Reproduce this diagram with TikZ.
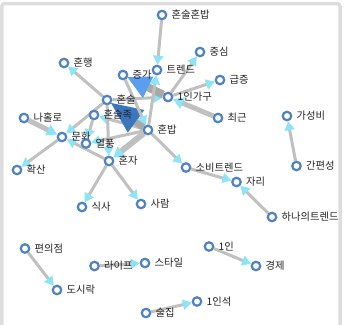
\documentclass[tikz,border=0pt]{standalone}
\usepackage{fontspec}
\newfontfamily\kr{Noto Sans CJK KR}
\usetikzlibrary{arrows.meta,backgrounds,calc}
\definecolor{nodeblue}{HTML}{4F82C0}
\definecolor{edgegray}{HTML}{C0C0C0}
\definecolor{thickgray}{HTML}{A8A8A8}
\definecolor{tipcyan}{HTML}{8DE4F7}
\definecolor{tipblue}{HTML}{5B9DEE}
\definecolor{tipdark}{HTML}{3A77BF}
\definecolor{framegray}{HTML}{DDDDDD}
\definecolor{labelcol}{HTML}{222222}
\tikzset{
  kw/.style={circle, draw=nodeblue, fill=white, line width=2.2pt, inner sep=0pt, minimum size=8.5pt},
  kwlabel/.style={inner sep=0pt, anchor=base west, font=\kr\fontsize{10.3}{12}\selectfont, text=labelcol},
  thinedge/.style={draw=edgegray, line width=3pt, -{Triangle[length=9pt,width=10pt,color=tipcyan]}},
  midedge/.style={draw=edgegray, line width=#1, -{Triangle[length=10.5pt,width=11.5pt,color=tipcyan]}},
  thickline/.style={draw=thickgray, line width=8pt},
  framebox/.style={draw=framegray, line width=3.5pt, rounded corners=3pt}
}
\newcommand\kwnode[4]{%
  \node[kw] (#1) at (#2,#3) {};
  \node[kwlabel] (#1-l) at ([xshift=9.5pt,yshift=-3.7pt]#1.center) {#4};}
\begin{document}
\begin{tikzpicture}[x=1pt,y=-1pt]
\useasboundingbox (0,0) rectangle (347,324);
\begin{scope}
\clip (0,0) rectangle (347,324);
\draw[framebox] (1.75,3.5) rectangle (340,340);
\end{scope}
% nodes
\kwnode{hshb}{162}{15}{혼술혼밥}
\kwnode{tr}{157}{70}{트렌드}
\kwnode{jc}{200}{52}{중심}
\kwnode{gj}{220}{80}{급증}
\kwnode{ig}{168}{97}{1인가구}
\kwnode{jg}{123}{75}{증가}
\kwnode{hh}{64}{63}{혼행}
\kwnode{hs}{107}{100}{혼술}
\kwnode{hsj}{94}{115}{혼술족}
\kwnode{hb}{148}{130}{혼밥}
\kwnode{cg}{218}{118}{최근}
\kwnode{gsb}{287}{116}{가성비}
\kwnode{nhr}{24}{118}{나홀로}
\kwnode{mh}{62}{137}{문화}
\kwnode{yp}{86}{143.5}{열풍}
\kwnode{hj}{109}{161}{혼자}
\kwnode{hks}{17}{170}{확산}
\kwnode{sbt}{186}{167.5}{소비트렌드}
\kwnode{gps}{296.5}{166}{간편성}
\kwnode{jr}{236.5}{182}{자리}
\kwnode{ss}{82}{207}{식사}
\kwnode{sr}{141}{204}{사람}
\kwnode{hnt}{272}{217}{하나의트렌드}
\kwnode{pij}{25}{248.5}{편의점}
\kwnode{il}{209}{246.5}{1인}
\kwnode{lf}{94.5}{266}{라이프}
\kwnode{sty}{145}{263}{스타일}
\kwnode{gje}{256}{266}{경제}
\kwnode{dsr}{57}{290}{도시락}
\kwnode{iis}{197}{301.5}{1인석}
\kwnode{sj}{146}{313}{술집}
% edges
\begin{scope}[on background layer]
\draw[thinedge] (hb) -- (hsj);
\draw[thinedge] (hs) -- (hh);
\draw[thinedge] (hs) -- (mh);
\draw[thinedge] (hsj) -- (yp);
\draw[thinedge] (hb) -- (yp);
\draw[thinedge] (hj) -- (mh);
\draw[thinedge] (hs) -- (hj);
\draw[thinedge] (hs) -- (ig);
% thick 1인가구 -> 증가
\coordinate (jgtip) at ($(jg)!5pt!(ig)$);
\coordinate (jgbase) at ($(jg)!28pt!(ig)$);
\draw[thickline] (ig) -- (jgbase);
\fill[tipblue] (jgtip) -- ($(jgbase)!12pt!90:(jg)$) -- ($(jgbase)!12pt!-90:(jg)$) -- cycle;
% thick 혼밥 -> 혼술
\coordinate (hstip) at ($(hs)!5pt!(hb)$);
\coordinate (hsbase) at ($(hs)!36pt!(hb)$);
\draw[thickline] (hb) -- (hsbase);
\fill[tipdark] (hstip) -- ($(hsbase)!14pt!90:(hs)$) -- ($(hsbase)!14pt!-90:(hs)$) -- cycle;
\draw[thinedge] (jg) -- (hb);
\draw[thinedge] (hshb) -- (tr);
\draw[thinedge] (hb) -- (tr);
\draw[thinedge] (ig) -- (jc);
\draw[thinedge] (ig) -- (gj);
\draw[midedge=5pt] (cg) -- (ig);
\draw[midedge=5pt] (nhr) -- (mh);
\draw[midedge=6pt] (hb) -- (hj);
\draw[thinedge] (mh) -- (hks);
\draw[thinedge] (hj) -- (ss);
\draw[thinedge] (hj) -- (sr);
\draw[thinedge] (hb) -- (sbt);
\draw[thinedge] (sbt) -- (jr);
\draw[thinedge] (hnt) -- (jr);
\draw[thinedge] (gps) -- (gsb);
\draw[thinedge] (pij) -- (dsr);
\draw[thinedge] (lf) -- (sty);
\draw[thinedge] (il) -- (gje);
\draw[thinedge] (sj) -- (iis);
\end{scope}
\end{tikzpicture}
\end{document}
